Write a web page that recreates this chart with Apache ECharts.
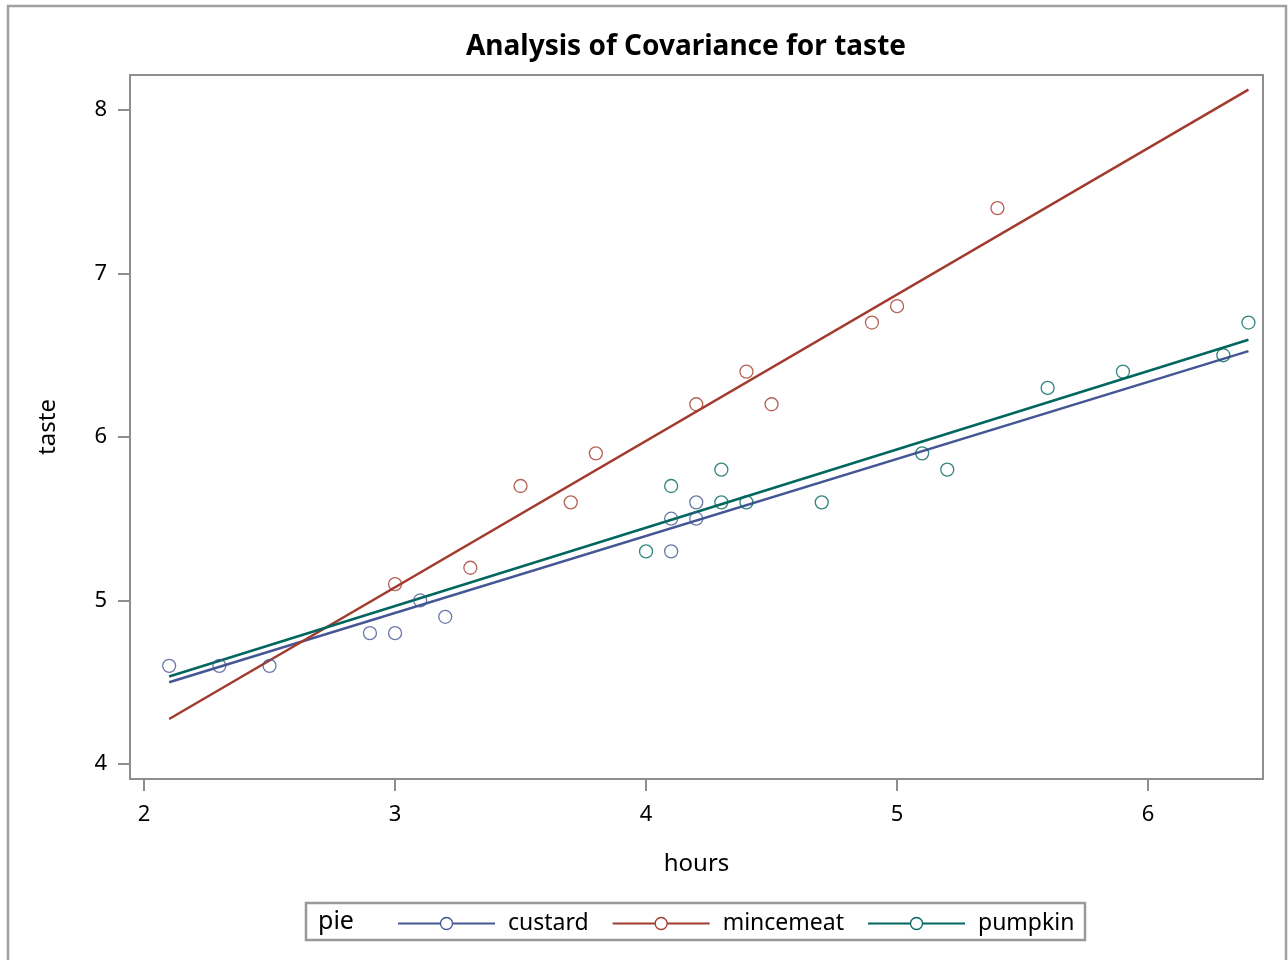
<!DOCTYPE html>
<html>
<head>
<meta charset="utf-8">
<script src="https://cdn.jsdelivr.net/npm/echarts@6.0.0/dist/echarts.min.js"></script>
<style>
html,body{margin:0;padding:0;background:#fff;}
#chart{width:1288px;height:960px;}
</style>
</head>
<body>
<div id="chart"></div>
<script>
// ---- data ----
const groups = ['custard', 'mincemeat', 'pumpkin'];
const custardHours = [2.1, 2.3, 2.5, 2.9, 3.0, 3.1, 3.2, 4.1, 4.1, 4.2, 4.2];
const custardTaste = [4.6, 4.6, 4.6, 4.8, 4.8, 5.0, 4.9, 5.5, 5.3, 5.6, 5.5];
const mincemeatHours = [3.0, 3.3, 3.5, 3.7, 3.8, 4.2, 4.4, 4.5, 4.9, 5.0, 5.4];
const mincemeatTaste = [5.1, 5.2, 5.7, 5.6, 5.9, 6.2, 6.4, 6.2, 6.7, 6.8, 7.4];
const pumpkinHours = [4.0, 4.1, 4.3, 4.3, 4.4, 4.7, 5.1, 5.2, 5.6, 5.9, 6.3, 6.4];
const pumpkinTaste = [5.3, 5.7, 5.8, 5.6, 5.6, 5.6, 5.9, 5.8, 6.3, 6.4, 6.5, 6.7];
// fitted lines (endpoints over hours range)
const fitHours = [2.1, 6.4];
const custardFit = [4.50, 6.525];
const mincemeatFit = [4.275, 8.125];
const pumpkinFit = [4.535, 6.595];
const xTicks = [2, 3, 4, 5, 6];
const yTicks = [4, 5, 6, 7, 8];
const colors = ['#445694', '#A23A2E', '#01665E'];

const FONT = '"Noto Sans", "DejaVu Sans", sans-serif';
const zip = (a, b) => a.map((v, i) => [v, b[i]]);
const pts = [zip(custardHours, custardTaste), zip(mincemeatHours, mincemeatTaste), zip(pumpkinHours, pumpkinTaste)];
const fits = [zip(fitHours, custardFit), zip(fitHours, mincemeatFit), zip(fitHours, pumpkinFit)];

const series = [];
groups.forEach((g, i) => {
  series.push({
    name: g, type: 'line', data: fits[i], symbol: 'circle', showSymbol: false,
    lineStyle: { color: colors[i], width: 2.5 }, itemStyle: { color: colors[i] },
    silent: true, z: 3
  });
});
groups.forEach((g, i) => {
  series.push({
    name: g, type: 'scatter', data: pts[i], symbol: 'circle', symbolSize: 13,
    itemStyle: { color: 'rgba(0,0,0,0)', borderColor: colors[i], borderWidth: 1.3 },
    z: 4
  });
});

const chart = echarts.init(document.getElementById('chart'), null, { renderer: 'canvas' });
chart.setOption({
  backgroundColor: '#fff',
  animation: false,
  color: colors,
  grid: { left: 130, right: 25, top: 75, bottom: 181, show: true, borderColor: '#8e8e8e', borderWidth: 2, backgroundColor: 'transparent' },
  xAxis: {
    type: 'value', min: 1.944, max: 6.458,
    name: 'hours', nameLocation: 'middle', nameGap: 73,
    nameTextStyle: { fontFamily: FONT, fontSize: 24, color: '#000' },
    axisLine: { show: true, lineStyle: { color: '#8e8e8e', width: 2 } },
    axisTick: { show: true, length: 12, customValues: xTicks, lineStyle: { color: '#8e8e8e', width: 2 } },
    axisLabel: { customValues: xTicks, margin: 25, fontFamily: FONT, fontSize: 22, color: '#000' },
    splitLine: { show: false }
  },
  yAxis: {
    type: 'value', min: 3.908, max: 8.214,
    name: 'taste', nameLocation: 'middle', nameGap: 70, nameRotate: 90,
    nameTextStyle: { fontFamily: FONT, fontSize: 24, color: '#000' },
    axisLine: { show: true, lineStyle: { color: '#8e8e8e', width: 2 } },
    axisTick: { show: true, length: 12, customValues: yTicks, lineStyle: { color: '#8e8e8e', width: 2 } },
    axisLabel: { customValues: yTicks, margin: 23, fontFamily: FONT, fontSize: 22, color: '#000' },
    splitLine: { show: false }
  },
  legend: {
    data: groups.map((g, i) => ({ name: g, itemStyle: { color: '#fff', borderColor: colors[i], borderWidth: 1.3 } })),
    left: 392, top: 907, orient: 'horizontal',
    itemWidth: 97, itemHeight: 15, itemGap: 23,
    textStyle: { fontFamily: FONT, fontSize: 23, color: '#000', padding: [0, 0, 0, 8] }
  },
  graphic: [
    { type: 'rect', shape: { x: 8, y: 6, width: 1278, height: 1000 }, style: { fill: 'none', stroke: '#a0a0a0', lineWidth: 2.5 }, silent: true },
    { type: 'rect', shape: { x: 306, y: 903, width: 779, height: 37 }, style: { fill: 'none', stroke: '#999999', lineWidth: 2.5 }, silent: true },
    { type: 'text', style: { text: 'pie', x: 318, y: 922, textVerticalAlign: 'middle', font: '25px ' + FONT, fill: '#000' }, silent: true },
    { type: 'text', style: { text: 'Analysis of Covariance for taste', x: 686, y: 47, textAlign: 'center', textVerticalAlign: 'middle', font: 'bold 28px ' + FONT, fill: '#000' }, silent: true }
  ],
  series: series
});
</script>
</body>
</html>
